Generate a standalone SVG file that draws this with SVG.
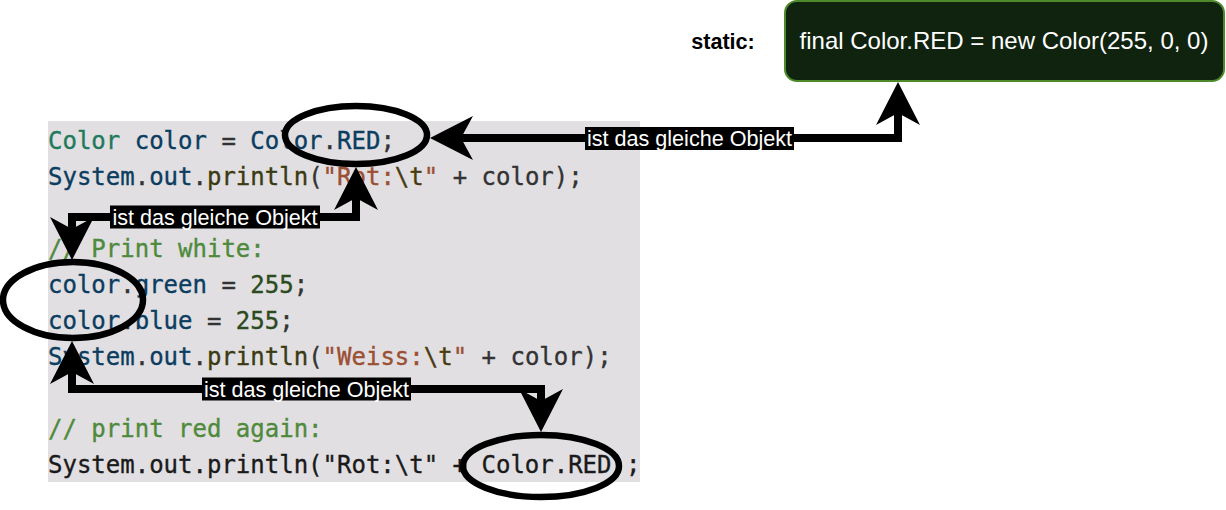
<svg xmlns="http://www.w3.org/2000/svg" xmlns:xlink="http://www.w3.org/1999/xlink" width="1226" height="510" viewBox="0 0 1226 510">
<style>
.code{font-family:"DejaVu Sans Mono",monospace;font-size:24px;fill:#333333;stroke:#333333;stroke-width:0.35}
.ty{fill:#1f7a5c;stroke:#1f7a5c}
.v{fill:#0c3d5f;stroke:#0c3d5f}
.fn{fill:#3b3a12;stroke:#3b3a12}
.st{fill:#9b4f33;stroke:#9b4f33}
.esc{fill:#4a3a10;stroke:#4a3a10}
.num{fill:#2b4a1e;stroke:#2b4a1e}
.cm{fill:#4f8a3c;stroke:#4f8a3c}
.plain{fill:#1a1a1a;stroke:#1a1a1a}
.ell{fill:none;stroke:#000;stroke-width:6.5}
.conn{fill:none;stroke:#000;stroke-width:8;stroke-linejoin:miter}
.lblbg{fill:#000}
.lbl{font-family:"Liberation Sans",Arial,sans-serif;font-size:21.6px;fill:#fff;text-anchor:middle}
.head{fill:#000}
</style>
<defs>
<path id="ah" d="M0,0 L-43,-22 L-31,0 L-43,22 Z"/>
</defs>
<rect x="48" y="121" width="592" height="361" fill="#e1dfe2"/>
<g id="code">
<text class="code" x="48" y="149" xml:space="preserve"><tspan class="ty">Color</tspan> <tspan class="v">color</tspan> = <tspan class="v">Color</tspan>.<tspan class="v">RED</tspan>;</text>
<text class="code" x="48" y="185" xml:space="preserve"><tspan class="v">System</tspan>.<tspan class="v">out</tspan>.<tspan class="fn">println</tspan>(<tspan class="st">"Rot:</tspan><tspan class="esc">\t</tspan><tspan class="st">"</tspan> + color);</text>
<text class="code cm" x="48" y="257" xml:space="preserve">// Print white:</text>
<text class="code" x="48" y="293" xml:space="preserve"><tspan class="v">color</tspan>.<tspan class="v">green</tspan> = <tspan class="num">255</tspan>;</text>
<text class="code" x="48" y="329" xml:space="preserve"><tspan class="v">color</tspan>.<tspan class="v">blue</tspan> = <tspan class="num">255</tspan>;</text>
<text class="code" x="48" y="365" xml:space="preserve"><tspan class="v">System</tspan>.<tspan class="v">out</tspan>.<tspan class="fn">println</tspan>(<tspan class="st">"Weiss:</tspan><tspan class="esc">\t</tspan><tspan class="st">"</tspan> + color);</text>
<text class="code cm" x="48" y="437" xml:space="preserve">// print red again:</text>
<text class="code plain" x="48" y="473" xml:space="preserve">System.out.println("Rot:\t" + Color.RED);</text>
</g>
<g id="static-label">
<text x="723" y="49" font-family="'Liberation Sans',Arial,sans-serif" font-size="21.6" font-weight="bold" fill="#000" text-anchor="middle">static:</text>
</g>
<g id="red-box">
<rect x="785" y="1" width="439" height="80" rx="12" ry="12" fill="#10230f" stroke="#4e8a2c" stroke-width="2"/>
<text x="1004" y="49" font-family="'Liberation Sans',Arial,sans-serif" font-size="24" fill="#fff" text-anchor="middle">final Color.RED = new Color(255, 0, 0)</text>
</g>
<g id="ellipse-top"><ellipse class="ell" cx="356" cy="135" rx="71" ry="29"/></g>
<g id="ellipse-left"><ellipse class="ell" cx="73" cy="300" rx="70" ry="38"/></g>
<g id="ellipse-bottom"><ellipse class="ell" cx="541" cy="466" rx="78" ry="31"/></g>
<g id="connectors">
<path class="conn" d="M898,113 L898,138 L459,138"/>
<use xlink:href="#ah" class="head" transform="translate(898,82) rotate(-90)"/>
<use xlink:href="#ah" class="head" transform="translate(430,138) rotate(180)"/>
<rect class="lblbg" x="585" y="127" width="209" height="23"/>
<text class="lbl" x="689.5" y="146">ist das gleiche Objekt</text>

<path class="conn" d="M356,198 L356,217 L72,217 L72,230"/>
<use xlink:href="#ah" class="head" transform="translate(356,167) rotate(-90)"/>
<use xlink:href="#ah" class="head" transform="translate(72,260) rotate(90)"/>
<rect class="lblbg" x="110" y="205.5" width="210" height="23"/>
<text class="lbl" x="215" y="224.5">ist das gleiche Objekt</text>

<path class="conn" d="M72,372 L72,389 L541,389 L541,402"/>
<use xlink:href="#ah" class="head" transform="translate(72,341) rotate(-90)"/>
<use xlink:href="#ah" class="head" transform="translate(541,432) rotate(90)"/>
<rect class="lblbg" x="202" y="377.5" width="209" height="23"/>
<text class="lbl" x="306.5" y="396.5">ist das gleiche Objekt</text>
</g>
</svg>
